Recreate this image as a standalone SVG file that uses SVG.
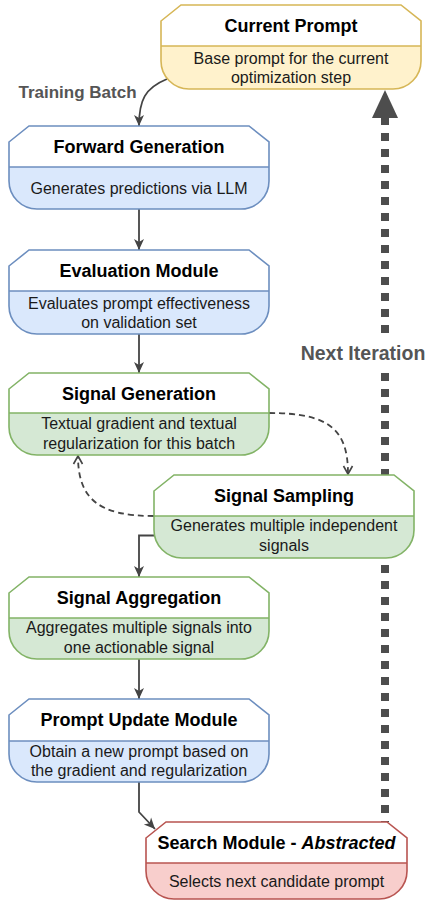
<svg xmlns="http://www.w3.org/2000/svg" width="430" height="901" viewBox="0 0 430 901">
<style>
  text { font-family: "Liberation Sans", Arial, sans-serif; text-anchor: middle; }
  .title { font-size: 18px; font-weight: bold; fill: #000; }
  .body { font-size: 16px; fill: #1a1a1a; }
  .top { fill: #ffffff; stroke: none; }
  .outline { fill: none; stroke-width: 1.6; }
  .div { stroke-width: 1.6; }
  .yellow .bot { fill: #fff2cc; } .yellow .outline, .yellow .div { stroke: #d6b656; }
  .blue .bot { fill: #dae8fc; } .blue .outline, .blue .div { stroke: #6c8ebf; }
  .green .bot { fill: #d5e8d4; } .green .outline, .green .div { stroke: #82b366; }
  .red .bot { fill: #f8cecc; } .red .outline, .red .div { stroke: #b85450; }
  .edge { fill: none; stroke: #444; stroke-width: 1.8; }
  .dashed { stroke-dasharray: 6 4; }
  .elabel { font-weight: bold; fill: #555; }
</style>
<defs>
  <marker id="arrow" markerUnits="userSpaceOnUse" markerWidth="12" markerHeight="12" viewBox="0 0 12 12" refX="11" refY="6" orient="auto">
    <path d="M0,1 L11,6 L0,11 L3,6 Z" fill="#444"/>
  </marker>
  <marker id="open" markerUnits="userSpaceOnUse" markerWidth="12" markerHeight="12" viewBox="0 0 12 12" refX="10" refY="6" orient="auto">
    <path d="M2,1.5 L10,6 L2,10.5" fill="none" stroke="#444" stroke-width="1.6"/>
  </marker>
</defs>

<g id="connectors">
  <path class="edge" d="M167,79 C145,88 139,100 139,126" marker-end="url(#arrow)"/>
  <text class="elabel" x="77.5" y="98" font-size="17">Training Batch</text>
  <path class="edge" d="M139,209 V250" marker-end="url(#arrow)"/>
  <path class="edge" d="M139,334 V373" marker-end="url(#arrow)"/>
  <path class="edge dashed" d="M269,413 C330,413 348,430 348,474" marker-end="url(#open)"/>
  <path class="edge dashed" d="M154,516 C100,516 78,500 78,456" marker-end="url(#open)"/>
  <path class="edge" d="M154,535.5 H139 V577" marker-end="url(#arrow)"/>
  <path class="edge" d="M139,659 V699" marker-end="url(#arrow)"/>
  <path class="edge" d="M139,782 V812 L155,829" marker-end="url(#arrow)"/>
  <path d="M385,117 V822" fill="none" stroke="#4d4d4d" stroke-width="8" stroke-dasharray="8 8"/>
  <polygon points="385,90 372,118 398,118" fill="#4d4d4d"/>
  <rect x="298" y="341" width="132" height="25" fill="#ffffff"/>
  <text class="elabel" x="363" y="360" font-size="19.5">Next Iteration</text>
</g>

<g id="current-prompt" class="yellow">
  <path class="top" d="M161,21 L181,5 H401 L421,21 V46 H161 Z"/>
  <path class="bot" d="M161,46 H421 V61 A28 28 0 0 1 393,89 H189 A28 28 0 0 1 161,61 Z"/>
  <path class="outline" d="M161,21 L181,5 H401 L421,21 V61 A28 28 0 0 1 393,89 H189 A28 28 0 0 1 161,61 Z"/>
  <path class="div" d="M161,46 H421"/>
  <text class="title" x="291" y="32">Current Prompt</text>
  <text class="body" x="291" y="64">Base prompt for the current</text>
  <text class="body" x="291" y="83">optimization step</text>
</g>

<g id="forward-generation" class="blue">
  <path class="top" d="M9,142 L29,126 H249 L269,142 V167 H9 Z"/>
  <path class="bot" d="M9,167 H269 V181 A28 28 0 0 1 241,209 H37 A28 28 0 0 1 9,181 Z"/>
  <path class="outline" d="M9,142 L29,126 H249 L269,142 V181 A28 28 0 0 1 241,209 H37 A28 28 0 0 1 9,181 Z"/>
  <path class="div" d="M9,167 H269"/>
  <text class="title" x="139" y="153">Forward Generation</text>
  <text class="body" x="139" y="193.5">Generates predictions via LLM</text>
</g>

<g id="evaluation-module" class="blue">
  <path class="top" d="M9,266 L29,250 H249 L269,266 V291 H9 Z"/>
  <path class="bot" d="M9,291 H269 V306 A28 28 0 0 1 241,334 H37 A28 28 0 0 1 9,306 Z"/>
  <path class="outline" d="M9,266 L29,250 H249 L269,266 V306 A28 28 0 0 1 241,334 H37 A28 28 0 0 1 9,306 Z"/>
  <path class="div" d="M9,291 H269"/>
  <text class="title" x="139" y="277">Evaluation Module</text>
  <text class="body" x="139" y="308.5">Evaluates prompt effectiveness</text>
  <text class="body" x="139" y="328">on validation set</text>
</g>

<g id="signal-generation" class="green">
  <path class="top" d="M9,389 L29,373 H249 L269,389 V413 H9 Z"/>
  <path class="bot" d="M9,413 H269 V427 A28 28 0 0 1 241,455 H37 A28 28 0 0 1 9,427 Z"/>
  <path class="outline" d="M9,389 L29,373 H249 L269,389 V427 A28 28 0 0 1 241,455 H37 A28 28 0 0 1 9,427 Z"/>
  <path class="div" d="M9,413 H269"/>
  <text class="title" x="139" y="399.5">Signal Generation</text>
  <text class="body" x="139" y="429">Textual gradient and textual</text>
  <text class="body" x="139" y="449">regularization for this batch</text>
</g>

<g id="signal-sampling" class="green">
  <path class="top" d="M154,491 L174,475 H394 L414,491 V516 H154 Z"/>
  <path class="bot" d="M154,516 H414 V530 A28 28 0 0 1 386,558 H182 A28 28 0 0 1 154,530 Z"/>
  <path class="outline" d="M154,491 L174,475 H394 L414,491 V530 A28 28 0 0 1 386,558 H182 A28 28 0 0 1 154,530 Z"/>
  <path class="div" d="M154,516 H414"/>
  <text class="title" x="284" y="502">Signal Sampling</text>
  <text class="body" x="284" y="531">Generates multiple independent</text>
  <text class="body" x="284" y="550.5">signals</text>
</g>

<g id="signal-aggregation" class="green">
  <path class="top" d="M9,593 L29,577 H249 L269,593 V618 H9 Z"/>
  <path class="bot" d="M9,618 H269 V631 A28 28 0 0 1 241,659 H37 A28 28 0 0 1 9,631 Z"/>
  <path class="outline" d="M9,593 L29,577 H249 L269,593 V631 A28 28 0 0 1 241,659 H37 A28 28 0 0 1 9,631 Z"/>
  <path class="div" d="M9,618 H269"/>
  <text class="title" x="139" y="604">Signal Aggregation</text>
  <text class="body" x="139" y="633">Aggregates multiple signals into</text>
  <text class="body" x="139" y="653">one actionable signal</text>
</g>

<g id="prompt-update-module" class="blue">
  <path class="top" d="M9,715 L29,699 H249 L269,715 V741 H9 Z"/>
  <path class="bot" d="M9,741 H269 V754 A28 28 0 0 1 241,782 H37 A28 28 0 0 1 9,754 Z"/>
  <path class="outline" d="M9,715 L29,699 H249 L269,715 V754 A28 28 0 0 1 241,782 H37 A28 28 0 0 1 9,754 Z"/>
  <path class="div" d="M9,741 H269"/>
  <text class="title" x="139" y="726">Prompt Update Module</text>
  <text class="body" x="139" y="757">Obtain a new prompt based on</text>
  <text class="body" x="139" y="776">the gradient and regularization</text>
</g>

<g id="search-module" class="red">
  <path class="top" d="M146,838 L166,822 H387 L407,838 V863 H146 Z"/>
  <path class="bot" d="M146,863 H407 V871 A28 28 0 0 1 379,899 H174 A28 28 0 0 1 146,871 Z"/>
  <path class="outline" d="M146,838 L166,822 H387 L407,838 V871 A28 28 0 0 1 379,899 H174 A28 28 0 0 1 146,871 Z"/>
  <path class="div" d="M146,863 H407"/>
  <text class="title" x="276.5" y="849">Search Module - <tspan font-style="italic">Abstracted</tspan></text>
  <text class="body" x="276.5" y="887">Selects next candidate prompt</text>
</g>
</svg>
